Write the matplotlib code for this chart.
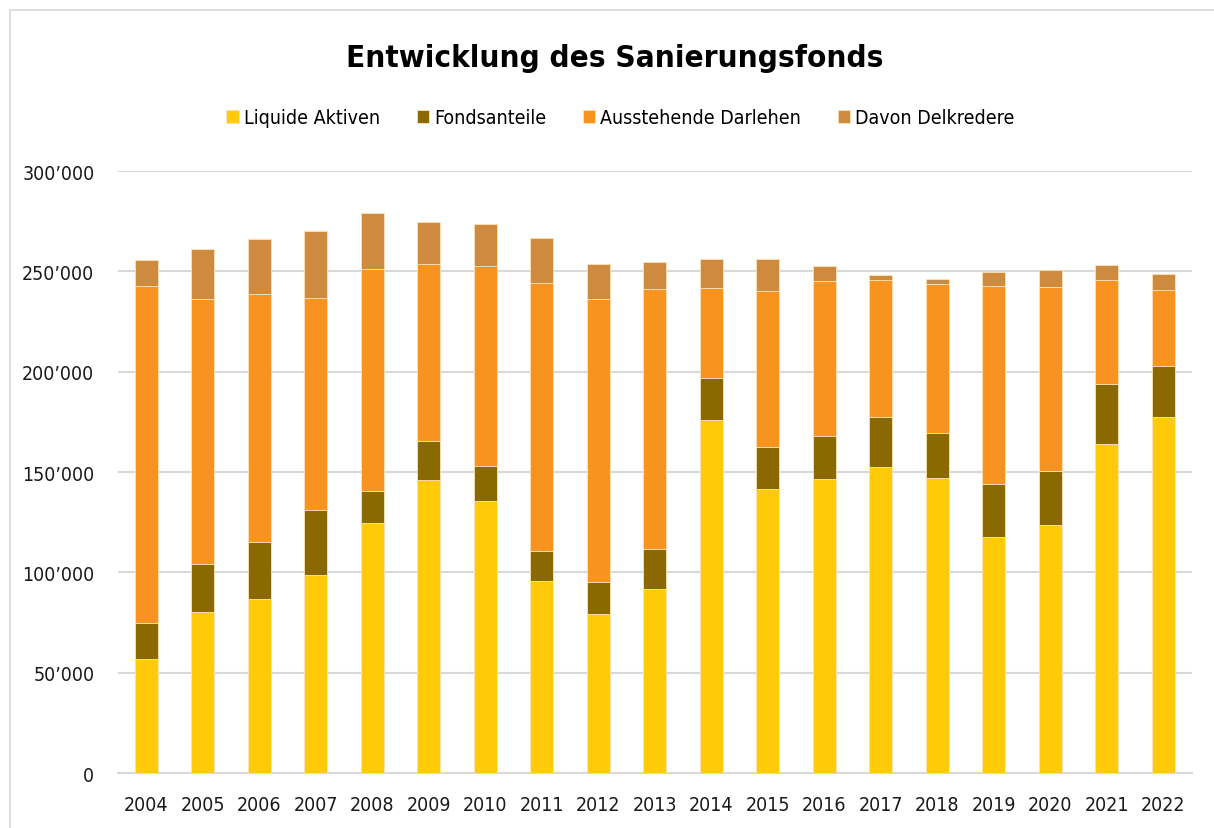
import numpy as np
import matplotlib
matplotlib.use("Agg")
import matplotlib.pyplot as plt
from matplotlib.patches import Rectangle
from matplotlib.ticker import FuncFormatter

plt.rcParams['font.family'] = ['DejaVu Sans']
plt.rcParams['font.stretch'] = 'condensed'

years = [str(y) for y in range(2004, 2023)]
liquide = [56800, 80300, 86600, 98900, 124800, 145900, 135600, 95900, 79200, 91900,
           175700, 141500, 146300, 152700, 146900, 117400, 123500, 163800, 177400]
fonds = [17800, 23700, 28300, 32300, 15800, 19500, 17500, 14900, 15800, 19900,
         21100, 21000, 21900, 24900, 22600, 26500, 27000, 30100, 25300]
darlehen = [168000, 132200, 123900, 105500, 110700, 88200, 99400, 133500, 141200, 129300,
            44900, 77700, 77000, 68000, 74000, 98700, 91900, 51800, 38100]
delkredere = [13000, 25000, 27500, 33500, 27700, 21200, 21200, 22200, 17400, 13600,
              14500, 16200, 7500, 2800, 2600, 7200, 8100, 7700, 7700]

series = [("Liquide Aktiven", liquide, "#FFCB08"),
          ("Fondsanteile", fonds, "#8A6900"),
          ("Ausstehende Darlehen", darlehen, "#F7931E"),
          ("Davon Delkredere", delkredere, "#CE8B3F")]

fig = plt.figure(figsize=(12.14, 8.29), dpi=100)
ax = fig.add_axes([0.0972, 0.0663, 0.8843, 0.7262])

x = np.arange(len(years))
bottom = np.zeros(len(years))
for name, vals, col in series:
    ax.bar(x, vals, 0.4, bottom=bottom, color=col, label=name,
           edgecolor="#FBE3B8", linewidth=0.6, zorder=3)
    bottom += np.array(vals)

ax.set_xlim(-0.5, len(years) - 0.5)
ax.set_ylim(0, 300000)
ax.set_yticks(np.arange(0, 300001, 50000))
ax.yaxis.set_major_formatter(FuncFormatter(
    lambda v, p: "0" if v == 0 else "{:,.0f}".format(v).replace(",", "\u2019")))
ax.set_xticks(x)
ax.set_xticklabels(years)
ax.grid(axis="y", color="#D9D9D9", linewidth=1.5, zorder=0)
for s in ["top", "right", "left"]:
    ax.spines[s].set_visible(False)
ax.spines["bottom"].set_color("#D9D9D9")
ax.spines["bottom"].set_linewidth(1.5)
ax.tick_params(axis="both", length=0, labelsize=14, colors="#1a1a1a")
ax.tick_params(axis="x", pad=16)
ax.tick_params(axis="y", pad=17)

fig.text(0.506, 1 - 67 / 829, "Entwicklung des Sanierungsfonds", ha="center", va="baseline",
         fontsize=22.5, fontweight="bold")

fig.legend(loc="center", bbox_to_anchor=(0.511, 0.8565), ncol=4, frameon=False,
           fontsize=14, handlelength=0.62, handleheight=0.62, handletextpad=0.26,
           columnspacing=1.9)

fig.add_artist(Rectangle((10 / 1214, -0.01), 1.02, 1 - 11 / 829 + 0.01,
                         transform=fig.transFigure, fill=False,
                         edgecolor="#D9D9D9", linewidth=1.2))

fig.savefig("out.png", dpi=100)
